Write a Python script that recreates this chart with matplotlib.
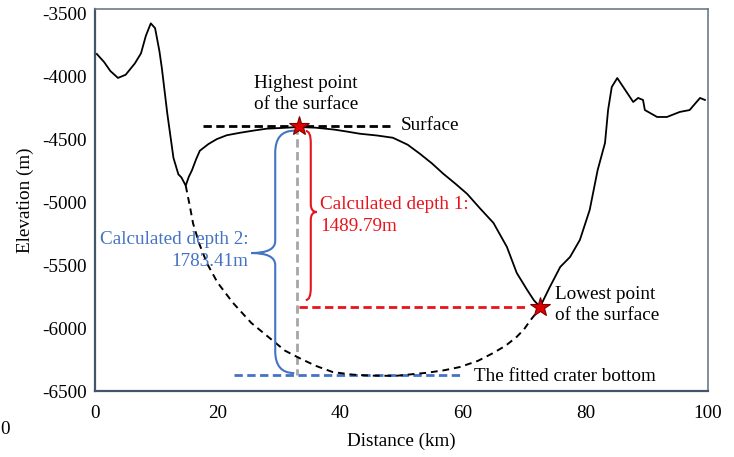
import matplotlib
matplotlib.use("Agg")
import matplotlib.pyplot as plt
from matplotlib.path import Path
from matplotlib.patches import PathPatch

plt.rcParams['font.family'] = ['Liberation Serif', 'DejaVu Serif']
FS = 13.8

profile_x = [0.3, 1.5, 2.5, 3.75, 5, 6.5, 7.5, 8.3, 9.1, 9.8, 10.5, 10.9, 11.8, 12.8, 13.6, 14.1,
             14.8, 15.3, 15.8, 16.5, 17.1, 18.5, 19.9, 21.5, 23.7, 26, 28, 30.5, 33.2, 36, 39, 41,
             43.2, 46, 48.6, 51, 53, 55, 56.8, 58.8, 60.7, 62.8, 65, 67.2, 68.8, 70.5, 71.6,
             72.6, 74.2, 75.9, 77.5, 79.1, 80.7, 82, 83.2, 83.7, 84.3, 85.2, 86.5, 87.8, 88.6,
             89.4, 89.7, 91.7, 93.3, 95.4, 97, 98.7, 99.5]
profile_y = [-3825, -3890, -3960, -4015, -3990, -3900, -3820, -3680, -3582, -3620, -3800, -3935,
             -4300, -4650, -4780, -4805, -4870, -4800, -4750, -4660, -4593, -4540, -4500, -4470,
             -4450, -4432, -4418, -4412, -4405, -4410, -4425, -4440, -4458, -4472, -4490, -4545,
             -4617, -4695, -4775, -4855, -4935, -5050, -5166, -5357, -5563, -5698, -5780,
             -5833, -5674, -5515, -5436, -5301, -5063, -4746, -4531, -4270, -4087, -4016, -4111,
             -4206, -4174, -4190, -4270, -4325, -4325, -4285, -4270, -4174, -4190]

bottom_x = [14.8, 15.5, 16, 17, 18.3, 20, 22.5, 25.5, 29, 31, 33.4, 36, 38.8, 42, 45, 49, 54.2,
            57, 59.5, 62.5, 64.9, 67, 68.8, 70, 71, 72, 72.6]
bottom_y = [-4870, -5040, -5170, -5330, -5490, -5640, -5800, -5960, -6100, -6180, -6240, -6300,
            -6350, -6370, -6378, -6380, -6355, -6335, -6310, -6260, -6200, -6140, -6070, -6010,
            -5940, -5880, -5833]

high_pt = (33.2, -4400)
low_pt = (72.6, -5833)
fitted_bottom = -6375
surface_span = (17.6, 48.1)
blue_span = (22.7, 59.9)
red_end = 70.6

fig = plt.figure(figsize=(7.34, 4.57), dpi=100)
ax = fig.add_axes([95/734, 1-391/457, (708-95)/734, (391-9)/457])
ax.set_xlim(0, 100)
ax.set_ylim(-6500, -3468)

px_x = (708-95)/100.0
px_y = (391-9)/(6500-3468)

ax.plot(profile_x, profile_y, color='black', lw=1.3, zorder=3)
ax.plot(bottom_x, bottom_y, color='black', lw=1.4, ls=(0, (3.5, 2.5)), zorder=3)

ax.plot(surface_span, [high_pt[1]]*2, color='black', lw=2, ls=(0, (3, 1.6)), zorder=2)
ax.plot([high_pt[0], red_end], [low_pt[1]]*2, color='#e8141c', lw=2, ls=(0, (3, 1.6)), zorder=2)
ax.plot(blue_span, [fitted_bottom]*2, color='#4472c4', lw=2, ls=(0, (3, 1.6)), zorder=2)
ax.plot([high_pt[0]-0.3]*2, [high_pt[1], fitted_bottom], color='#a6a6a6', lw=2,
        ls=(0, (3, 1.6)), zorder=2)


def brace(x0, ytop, ybot, ymid, d, h, t, r, r2, color):
    # h, t, r, r2 in pixels
    hx = h / px_x
    tx = t / px_x
    ry = r / px_y
    r2y = r2 / px_y
    verts = [(x0 - d*hx, ytop), (x0, ytop), (x0, ytop - ry),
             (x0, ymid + r2y), (x0, ymid), (x0 + d*tx, ymid),
             (x0, ymid), (x0, ymid - r2y),
             (x0, ybot + ry), (x0, ybot), (x0 - d*hx, ybot)]
    codes = [Path.MOVETO, Path.CURVE3, Path.CURVE3,
             Path.LINETO, Path.CURVE3, Path.CURVE3,
             Path.CURVE3, Path.CURVE3,
             Path.LINETO, Path.CURVE3, Path.CURVE3]
    ax.add_patch(PathPatch(Path(verts, codes), fill=False, edgecolor=color, lw=1.5, zorder=4))


brace(35.2, -4436, -5778, -5079, 1, 5, 6, 12, 8, '#e8141c')
brace(29.4, -4434, -6358, -5405, -1, 19, 24, 22, 12, '#4472c4')

ax.plot(*high_pt, marker='*', ms=15, color='#e00000', mec='#7a0000', mew=0.8, zorder=5)
ax.plot(*low_pt, marker='*', ms=15, color='#e00000', mec='#7a0000', mew=0.8, zorder=5)

ax.text(34.4, -4141, 'Highest point\nof the surface', ha='center', va='center', fontsize=FS,
        linespacing=1.3)
ax.text(49.8, -4395, 'Surface', ha='left', va='center', fontsize=FS)
ax.text(36.7, -5107, 'Calculated depth 1:\n1489.79m', ha='left', va='center', fontsize=FS,
        color='#e8141c', linespacing=1.38)
ax.text(25.0, -5384, 'Calculated depth 2:\n1783.41m', ha='right', va='center', fontsize=FS,
        color='#4472c4', linespacing=1.38, multialignment='right')
ax.text(75.0, -5820, 'Lowest point\nof the surface', ha='left', va='center', fontsize=FS,
        linespacing=1.3)
ax.text(61.8, -6382, 'The fitted crater bottom', ha='left', va='center', fontsize=FS)

ax.set_xticks([0, 20, 40, 60, 80, 100])
ax.set_yticks([-6500, -6000, -5500, -5000, -4500, -4000, -3500])
ax.tick_params(length=0, labelsize=FS)
ax.tick_params(axis='x', pad=10)
ax.tick_params(axis='y', pad=6)
ax.set_yticklabels([str(v) for v in [-6500, -6000, -5500, -5000, -4500, -4000, -3500]])
for s in ['left', 'bottom']:
    ax.spines[s].set_color('#44546a')
    ax.spines[s].set_linewidth(1.6)
for s in ['top', 'right']:
    ax.spines[s].set_color('#6b7a8c')
    ax.spines[s].set_linewidth(1.2)

ax.set_xlabel('Distance (km)', fontsize=FS, labelpad=8)
ax.set_ylabel('Elevation (m)', fontsize=FS, labelpad=6)
fig.text(0.001, 1-430/457, '0', fontsize=FS, ha='left', va='center')

fig.savefig('out.png', dpi=100)
